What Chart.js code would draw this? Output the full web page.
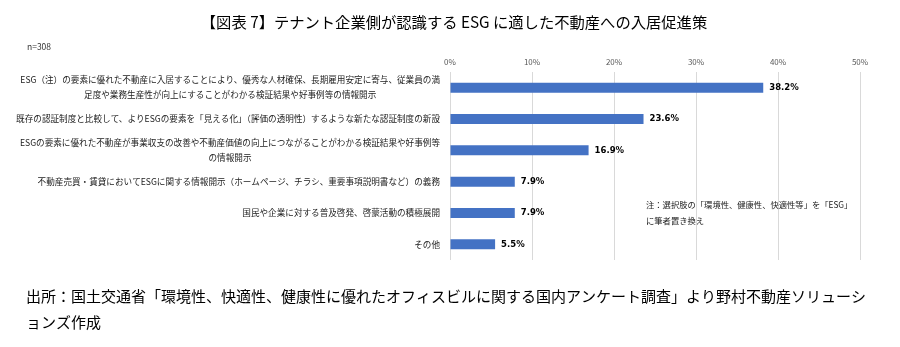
<!DOCTYPE html>
<html>
<head>
<meta charset="utf-8">
<script src="https://cdn.jsdelivr.net/npm/chart.js@4/dist/chart.umd.min.js"></script>
<style>
  body { margin: 0; background: #fff; }
  #wrap { width: 900px; height: 347px; position: relative; }
</style>
</head>
<body>
<div id="wrap"><canvas id="esgChart"></canvas></div>
<script>
// 回答項目（改行位置は元の表記どおり）
const categories = [
    ['ESG（注）の要素に優れた不動産に入居することにより、優秀な人材確保、長期雇用安定に寄与、従業員の満', '足度や業務生産性が向上にすることがわかる検証結果や好事例等の情報開示'],
    ['既存の認証制度と比較して、よりESGの要素を「見える化」（評価の透明性）するような新たな認証制度の新設'],
    ['ESGの要素に優れた不動産が事業収支の改善や不動産価値の向上につながることがわかる検証結果や好事例等', 'の情報開示'],
    ['不動産売買・賃貸においてESGに関する情報開示（ホームページ、チラシ、重要事項説明書など）の義務'],
    ['国民や企業に対する普及啓発、啓蒙活動の積極展開'],
    ['その他']
];
const shares = [38.2, 23.6, 16.9, 7.9, 7.9, 5.5];
const axisTicks = [0, 10, 20, 30, 40, 50];

const titleText = '【図表 7】テナント企業側が認識する ESG に適した不動産への入居促進策';
const sampleText = 'n=308';
const noteLines = ['注：選択肢の「環境性、健康性、快適性等」を「ESG」', 'に筆者置き換え'];
const sourceLines = ['出所：国土交通省「環境性、快適性、健康性に優れたオフィスビルに関する国内アンケート調査」より野村不動産ソリューシ', 'ョンズ作成'];

const JP = '"Noto Sans CJK JP", "Noto Sans", sans-serif';

// 見出し・項目名・数値ラベル・注記をまとめて描く
const textPlugin = {
    id: 'texts',
    afterDatasetsDraw(chart) {
        const ctx = chart.ctx;
        const y = chart.scales.y;
        const area = chart.chartArea;
        ctx.save();
        ctx.fillStyle = '#000';
        ctx.textBaseline = 'middle';

        ctx.font = '15.3px ' + JP;
        ctx.textAlign = 'center';
        ctx.fillText(titleText, 454, 22);

        ctx.font = '8.5px ' + JP;
        ctx.textAlign = 'left';
        ctx.fillStyle = '#333';
        ctx.fillText(sampleText, 27, 47);

        // 項目名：1行目を右揃え、2行目は1行目の中央に合わせる
        ctx.font = '8.6px ' + JP;
        ctx.fillStyle = '#222';
        const right = area.left - 10;
        const lh = 15;
        categories.forEach((lines, i) => {
            const cy = y.getPixelForValue(i);
            const w0 = ctx.measureText(lines[0]).width;
            const mid = right - w0 / 2;
            const top = cy - (lines.length - 1) * lh / 2;
            lines.forEach((line, j) => {
                if (j === 0) {
                    ctx.textAlign = 'right';
                    ctx.fillText(line, right, top);
                } else {
                    ctx.textAlign = 'center';
                    ctx.fillText(line, mid, top + j * lh);
                }
            });
        });

        // 棒の先の数値
        ctx.font = 'bold 8.5px "DejaVu Sans", sans-serif';
        ctx.textAlign = 'left';
        ctx.fillStyle = '#000';
        const meta = chart.getDatasetMeta(0);
        meta.data.forEach((bar, i) => {
            ctx.fillText(shares[i].toFixed(1) + '%', bar.x + 6, bar.y);
        });

        ctx.font = '8.3px ' + JP;
        ctx.fillStyle = '#222';
        ctx.fillText(noteLines[0], 646, 205);
        ctx.fillText(noteLines[1], 646, 221);

        ctx.font = '15px ' + JP;
        ctx.fillStyle = '#000';
        ctx.fillText(sourceLines[0], 26, 296);
        ctx.fillText(sourceLines[1], 26, 322);
        ctx.restore();
    }
};

const ctx = document.getElementById('esgChart').getContext('2d');
const esgChart = new Chart(ctx, {
    type: 'bar',
    data: {
        labels: categories.map(c => c.join('')),
        datasets: [{
            data: shares,
            backgroundColor: '#4472c4',
            borderWidth: 0,
            barPercentage: 0.32,
            categoryPercentage: 1
        }]
    },
    options: {
        indexAxis: 'y',
        responsive: true,
        maintainAspectRatio: false,
        animation: false,
        layout: {
            padding: { left: 450, right: 40, top: 52, bottom: 87 }
        },
        scales: {
            x: {
                position: 'top',
                min: axisTicks[0],
                max: axisTicks[axisTicks.length - 1],
                afterBuildTicks(scale) {
                    scale.ticks = axisTicks.map(v => ({ value: v }));
                },
                afterFit(scale) { scale.height = 20; },
                ticks: {
                    callback: v => v + '%',
                    color: '#595959',
                    font: { size: 8, family: JP },
                    padding: 5,
                    maxRotation: 0
                },
                grid: { color: '#d9d9d9', drawTicks: false },
                border: { display: false }
            },
            y: {
                display: false,
                offset: true
            }
        },
        plugins: {
            legend: { display: false },
            tooltip: { enabled: false }
        }
    },
    plugins: [textPlugin]
});
</script>
</body>
</html>
